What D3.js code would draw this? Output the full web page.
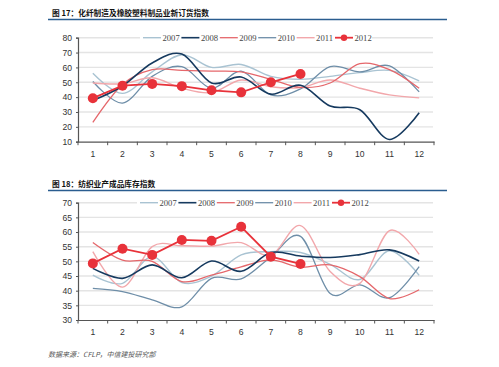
<!DOCTYPE html>
<html><head><meta charset="utf-8">
<script src="https://cdn.jsdelivr.net/npm/d3@7/dist/d3.min.js"></script>
<style>
html,body{margin:0;padding:0;background:#fff;}
svg{display:block;}
</style></head>
<body>
<svg id="c" width="499" height="367"></svg>
<script>
// ---------- data ----------
const months = [1,2,3,4,5,6,7,8,9,10,11,12];
const seriesNames = ["2007","2008","2009","2010","2011","2012"];

// Chart 1: 化纤制造及橡胶塑料制品业新订货指数
const c1_2007 = [56, 42.5, 57, 68.5, 60, 62, 54, 52, 54, 56.5, 58, 51];
const c1_2008 = [37.7, 47.5, 63, 69, 49.5, 53.5, 42, 48, 34, 31.5, 11.5, 29.5];
const c1_2009 = [23, 48.5, 58.5, 58, 57.5, 57, 52, 46.5, 49.5, 62.5, 58.5, 46];
const c1_2010 = [50.5, 36, 54, 60.5, 46, 57.5, 41.5, 45.5, 60.5, 57, 61, 43.5];
const c1_2011 = [49.5, 49, 53, 46, 43, 51.5, 47, 46.5, 51.5, 46, 41.5, 39.5];
const c1_2012 = [39.3, 47.7, 48.9, 47.4, 44.6, 43.2, 50, 55.6];
const c1_yTicks = [10,20,30,40,50,60,70,80];

// Chart 2: 纺织业产成品库存指数
const c2_2007 = [45.3, 42.5, 51.6, 42.8, 45, 52.2, 53.3, 53, 49, 43.8, 53.6, 45.2];
const c2_2008 = [47.6, 44.2, 48.8, 44.4, 50.1, 46.6, 53, 51.8, 51.3, 52.3, 53.9, 50.1];
const c2_2009 = [56.4, 50.4, 50, 43.1, 45.3, 48.1, 50.5, 48, 48.8, 44.8, 37.3, 40.3];
const c2_2010 = [40.8, 39.7, 36.9, 34.5, 44.2, 44, 51.5, 58.5, 39, 42, 37.6, 48.2];
const c2_2011 = [53.3, 41.2, 55, 55.3, 55.2, 56.4, 52, 62.2, 46.5, 42.5, 60.5, 52.4];
const c2_2012 = [49.3, 54.3, 52.2, 57.3, 57, 61.8, 51.6, 49.1];
const c2_yTicks = [30,35,40,45,50,55,60,65,70];

const title1 = "图 17：化纤制造及橡胶塑料制品业新订货指数";
const title2 = "图 18：纺织业产成品库存指数";
const sourceText = "数据来源：CFLP，中信建投研究部";

// ---------- styles ----------
const colors = {"2007":"#a9c3d2","2008":"#163a5f","2009":"#e5676b","2010":"#6e8ea8","2011":"#f2a7ab","2012":"#e8323a"};
const widths = {"2007":1.4,"2008":1.6,"2009":1.3,"2010":1.3,"2011":1.4,"2012":1.8};

const svg = d3.select("#c");

function drawChart(cfg){
  const g = svg.append("g");
  // title
  g.append("text").attr("x",52).attr("y",cfg.titleY)
    .attr("font-family","'Noto Sans CJK SC'").attr("font-weight","bold")
    .attr("font-size",7.7).attr("fill","#111").text(cfg.title);
  g.append("line").attr("x1",48).attr("x2",447).attr("y1",cfg.ruleY).attr("y2",cfg.ruleY)
    .attr("stroke","#2a5d8f").attr("stroke-width",1.6);

  const x = d3.scaleBand().domain(months).range([78,434]);
  const y = d3.scaleLinear().domain(cfg.yDomain).range(cfg.yRange);

  // grid
  g.append("g").selectAll("line").data(cfg.yTicks.slice(1)).join("line")
    .attr("x1",78).attr("x2",433).attr("y1",d=>y(d)).attr("y2",d=>y(d))
    .attr("stroke","#e4e4e4").attr("stroke-width",1.4);

  // axes
  const xa = g.append("g").attr("transform",`translate(0,${y(cfg.yDomain[0])})`)
    .call(d3.axisBottom(x).tickSize(0).tickPadding(9));
  xa.select(".domain").attr("stroke","#555").attr("stroke-width",1.2);
  xa.selectAll("text").attr("font-family","'Liberation Sans',Arial").attr("font-size",8.6).attr("fill","#333");
  // band boundary ticks
  const bounds = d3.range(13).map(i=>78 + i*x.step());
  xa.append("g").selectAll("line").data(bounds).join("line")
    .attr("x1",d=>d).attr("x2",d=>d).attr("y1",0).attr("y2",3.5)
    .attr("stroke","#555").attr("stroke-width",1);

  const ya = g.append("g").attr("transform","translate(78,0)")
    .call(d3.axisLeft(y).tickValues(cfg.yTicks).tickSize(2).tickPadding(4));
  ya.select(".domain").attr("stroke","#555").attr("stroke-width",1.2);
  ya.selectAll(".tick line").attr("stroke","#555");
  ya.selectAll("text").attr("font-family","'Liberation Sans',Arial").attr("font-size",8.6).attr("fill","#333");

  const cx = d=>x(d)+x.bandwidth()/2;
  const smooth = d3.line().x((d,i)=>cx(months[i])).y(d=>y(d)).curve(d3.curveCatmullRom.alpha(0));
  const straight = d3.line().x((d,i)=>cx(months[i])).y(d=>y(d));

  const data = cfg.data;
  ["2007","2010","2011","2009","2008"].forEach(k=>{
    g.append("path").attr("d",smooth(data[k])).attr("fill","none")
      .attr("stroke",colors[k]).attr("stroke-width",widths[k]);
  });
  g.append("path").attr("d",straight(data["2012"])).attr("fill","none")
    .attr("stroke",colors["2012"]).attr("stroke-width",widths["2012"]);
  g.append("g").selectAll("circle").data(data["2012"]).join("circle")
    .attr("cx",(d,i)=>cx(months[i])).attr("cy",d=>y(d)).attr("r",5)
    .attr("fill",colors["2012"]);

  // legend
  const ly = y(cfg.yDomain[1]);
  const lg = g.append("g");
  lg.append("rect").attr("x",cfg.legendX-3).attr("y",ly-5).attr("width",232).attr("height",10).attr("fill","#fff");
  seriesNames.forEach((k,i)=>{
    const lx = cfg.legendX + i*38.4;
    lg.append("line").attr("x1",lx).attr("x2",lx+18).attr("y1",ly).attr("y2",ly)
      .attr("stroke",colors[k]).attr("stroke-width",k==="2012"?1.8:widths[k]);
    if(k==="2012") lg.append("circle").attr("cx",lx+9).attr("cy",ly).attr("r",3.2).attr("fill",colors[k]);
    lg.append("text").attr("x",lx+19.5).attr("y",ly+3).attr("font-family","'Liberation Serif','Times New Roman'")
      .attr("font-size",8.6).attr("fill","#444").text(k);
  });
}

drawChart({title:title1, titleY:16, ruleY:19.5, yDomain:[10,80], yRange:[141.7,37.7], yTicks:c1_yTicks,
  legendX:143, data:{"2007":c1_2007,"2008":c1_2008,"2009":c1_2009,"2010":c1_2010,"2011":c1_2011,"2012":c1_2012}});
drawChart({title:title2, titleY:186.5, ruleY:190.5, yDomain:[30,70], yRange:[320,202.7], yTicks:c2_yTicks,
  legendX:140, data:{"2007":c2_2007,"2008":c2_2008,"2009":c2_2009,"2010":c2_2010,"2011":c2_2011,"2012":c2_2012}});

svg.append("text").attr("x",48).attr("y",357).attr("font-family","'Noto Sans CJK SC'")
  .attr("font-style","italic").attr("font-size",7).attr("fill","#555").text(sourceText);
</script>
</body></html>
